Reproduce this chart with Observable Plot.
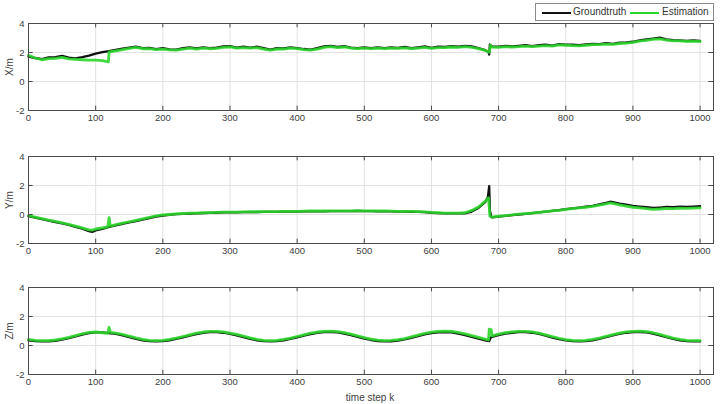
<!DOCTYPE html>
<html>
<head>
<meta charset="utf-8">
<script src="https://cdn.jsdelivr.net/npm/d3@7"></script>
<script src="https://cdn.jsdelivr.net/npm/@observablehq/plot@0.6"></script>
<style>
  html, body { margin: 0; padding: 0; background: #fff; }
  #wrap { position: relative; width: 720px; height: 404px; overflow: hidden; font-family: "Liberation Sans", Arial, sans-serif; color: #404040; }
  #wrap svg { position: absolute; left: 0; display: block; }
  .ylab { position: absolute; font-size: 10px; transform: translate(-50%, -50%) rotate(-90deg); white-space: nowrap; }
  .xlab { position: absolute; font-size: 10px; transform: translate(-50%, -50%); white-space: nowrap; }
  #legend { position: absolute; left: 535px; top: 3px; width: 177px; height: 16px; border: 1px solid #8a8a8a; background: #fff; font-size: 10px; }
  #legend .sw { position: absolute; top: 8px; height: 0; }
  #legend .tx { position: absolute; top: 2px; line-height: 12px; color: #333; }
</style>
</head>
<body>
<div id="wrap"></div>
<script>
// ---- data ----
const xTicks = [0, 100, 200, 300, 400, 500, 600, 700, 800, 900, 1000];
const yTicks = [-2, 0, 2, 4];
const seriesNames = ["Groundtruth", "Estimation"];
const panelLabels = ["X/m", "Y/m", "Z/m"];
const xAxisTitle = "time step k";

const xTruth = [[0,1.72],[10,1.62],[20,1.55],[30,1.66],[40,1.68],[50,1.76],[60,1.64],[70,1.6],[80,1.68],[90,1.78],[100,1.92],[110,2.02],[120,2.1],[130,2.18],[140,2.26],[150,2.34],[160,2.4],[170,2.3],[180,2.32],[190,2.24],[200,2.3],[210,2.22],[220,2.2],[230,2.3],[240,2.36],[250,2.28],[260,2.36],[270,2.3],[280,2.34],[290,2.42],[300,2.44],[310,2.34],[320,2.4],[330,2.34],[340,2.4],[350,2.3],[360,2.2],[370,2.3],[380,2.28],[390,2.36],[400,2.3],[410,2.24],[420,2.2],[430,2.3],[440,2.42],[450,2.46],[460,2.38],[470,2.44],[480,2.34],[490,2.3],[500,2.36],[510,2.3],[520,2.36],[530,2.3],[540,2.36],[550,2.32],[560,2.38],[570,2.3],[580,2.36],[590,2.42],[600,2.32],[610,2.4],[620,2.38],[630,2.44],[640,2.4],[650,2.46],[660,2.42],[670,2.3],[680,2.16],[685,2.04],[686,1.86],[687,2.55],[690,2.42],[700,2.4],[710,2.46],[720,2.42],[730,2.46],[740,2.5],[750,2.44],[760,2.5],[770,2.54],[780,2.48],[790,2.58],[800,2.54],[810,2.54],[820,2.5],[830,2.56],[840,2.6],[850,2.58],[860,2.64],[870,2.6],[880,2.68],[890,2.7],[900,2.74],[910,2.84],[920,2.9],[930,2.96],[940,3.02],[950,2.9],[960,2.86],[970,2.84],[980,2.8],[990,2.84],[1000,2.8]];
const xEst = [[0,1.8],[10,1.62],[20,1.5],[30,1.58],[40,1.6],[50,1.66],[60,1.56],[70,1.53],[80,1.5],[90,1.48],[100,1.47],[110,1.44],[119,1.36],[120,2.04],[130,2.12],[140,2.2],[150,2.28],[160,2.36],[170,2.26],[180,2.26],[190,2.2],[200,2.24],[210,2.18],[220,2.16],[230,2.24],[240,2.3],[250,2.24],[260,2.3],[270,2.26],[280,2.28],[290,2.36],[300,2.38],[310,2.3],[320,2.34],[330,2.3],[340,2.34],[350,2.24],[360,2.16],[370,2.24],[380,2.24],[390,2.3],[400,2.26],[410,2.2],[420,2.16],[430,2.24],[440,2.36],[450,2.4],[460,2.34],[470,2.38],[480,2.3],[490,2.26],[500,2.3],[510,2.26],[520,2.3],[530,2.26],[540,2.3],[550,2.28],[560,2.32],[570,2.26],[580,2.3],[590,2.36],[600,2.28],[610,2.34],[620,2.34],[630,2.38],[640,2.36],[650,2.4],[660,2.36],[670,2.26],[680,2.14],[686,2.02],[688,2.5],[690,2.38],[700,2.36],[710,2.4],[720,2.38],[730,2.4],[740,2.44],[750,2.4],[760,2.44],[770,2.48],[780,2.44],[790,2.52],[800,2.5],[810,2.48],[820,2.46],[830,2.5],[840,2.54],[850,2.54],[860,2.58],[870,2.56],[880,2.62],[890,2.64],[900,2.7],[910,2.78],[920,2.84],[930,2.9],[940,2.94],[950,2.86],[960,2.8],[970,2.8],[980,2.76],[990,2.78],[1000,2.76]];

const yTruth = [[0,-0.12],[10,-0.22],[20,-0.32],[30,-0.42],[40,-0.52],[50,-0.62],[60,-0.72],[70,-0.85],[80,-0.98],[90,-1.15],[95,-1.2],[100,-1.1],[110,-1.0],[120,-0.85],[130,-0.75],[140,-0.65],[150,-0.55],[160,-0.45],[170,-0.35],[180,-0.25],[190,-0.15],[200,-0.07],[210,-0.02],[220,0.02],[230,0.05],[240,0.07],[250,0.08],[260,0.1],[270,0.11],[280,0.12],[290,0.14],[300,0.15],[310,0.15],[320,0.16],[330,0.17],[340,0.17],[350,0.18],[360,0.18],[370,0.18],[380,0.2],[390,0.2],[400,0.2],[410,0.21],[420,0.22],[430,0.22],[440,0.22],[450,0.23],[460,0.23],[470,0.23],[480,0.23],[490,0.24],[500,0.23],[510,0.23],[520,0.22],[530,0.22],[540,0.21],[550,0.2],[560,0.2],[570,0.19],[580,0.18],[590,0.16],[600,0.12],[610,0.1],[620,0.08],[630,0.08],[640,0.08],[650,0.08],[660,0.2],[670,0.45],[680,0.85],[684,1.2],[686,1.95],[687,0.3],[689,-0.15],[690,-0.2],[700,-0.15],[710,-0.1],[720,-0.05],[730,0.0],[740,0.05],[750,0.1],[760,0.15],[770,0.2],[780,0.25],[790,0.3],[800,0.37],[810,0.42],[820,0.48],[830,0.54],[840,0.6],[850,0.7],[860,0.8],[866,0.88],[870,0.85],[880,0.75],[890,0.68],[900,0.6],[910,0.55],[920,0.5],[930,0.45],[940,0.48],[950,0.52],[960,0.5],[970,0.55],[980,0.52],[990,0.55],[1000,0.58]];
const yEst = [[0,-0.08],[10,-0.18],[20,-0.28],[30,-0.38],[40,-0.48],[50,-0.58],[60,-0.68],[70,-0.8],[80,-0.92],[90,-1.06],[95,-1.08],[100,-1.0],[110,-0.92],[118,-0.85],[120,-0.22],[122,-0.8],[130,-0.7],[140,-0.6],[150,-0.5],[160,-0.4],[170,-0.3],[180,-0.2],[190,-0.1],[200,-0.03],[210,0.0],[220,0.04],[230,0.07],[240,0.09],[250,0.1],[260,0.12],[270,0.13],[280,0.14],[290,0.16],[300,0.17],[310,0.17],[320,0.18],[330,0.19],[340,0.19],[350,0.2],[360,0.2],[370,0.2],[380,0.22],[390,0.22],[400,0.22],[410,0.23],[420,0.24],[430,0.24],[440,0.24],[450,0.25],[460,0.25],[470,0.25],[480,0.25],[490,0.26],[500,0.25],[510,0.25],[520,0.24],[530,0.24],[540,0.23],[550,0.22],[560,0.22],[570,0.21],[580,0.2],[590,0.18],[600,0.14],[610,0.12],[620,0.1],[630,0.1],[640,0.1],[650,0.12],[660,0.28],[670,0.52],[680,0.9],[685,1.15],[687,-0.1],[690,-0.18],[700,-0.12],[710,-0.08],[720,-0.03],[730,0.02],[740,0.06],[750,0.1],[760,0.15],[770,0.2],[780,0.25],[790,0.29],[800,0.35],[810,0.4],[820,0.45],[830,0.5],[840,0.56],[850,0.64],[860,0.74],[866,0.8],[870,0.76],[880,0.66],[890,0.58],[900,0.5],[910,0.45],[920,0.4],[930,0.36],[940,0.38],[950,0.42],[960,0.4],[970,0.44],[980,0.42],[990,0.44],[1000,0.46]];

const zTruth = [[0,0.35],[10,0.3],[20,0.28],[30,0.28],[40,0.32],[50,0.4],[60,0.5],[70,0.62],[80,0.75],[90,0.85],[100,0.9],[110,0.9],[120,0.86],[130,0.8],[140,0.7],[150,0.58],[160,0.46],[170,0.36],[180,0.3],[190,0.28],[200,0.3],[210,0.36],[220,0.45],[230,0.56],[240,0.68],[250,0.79],[260,0.87],[270,0.92],[280,0.92],[290,0.88],[300,0.8],[310,0.7],[320,0.58],[330,0.46],[340,0.36],[350,0.3],[360,0.28],[370,0.3],[380,0.36],[390,0.45],[400,0.56],[410,0.68],[420,0.79],[430,0.87],[440,0.92],[450,0.93],[460,0.9],[470,0.82],[480,0.72],[490,0.6],[500,0.48],[510,0.38],[520,0.31],[530,0.28],[540,0.29],[550,0.34],[560,0.42],[570,0.53],[580,0.65],[590,0.77],[600,0.86],[610,0.91],[620,0.93],[630,0.9],[640,0.82],[650,0.72],[660,0.6],[670,0.48],[680,0.36],[686,0.3],[688,0.52],[690,0.6],[700,0.72],[710,0.82],[720,0.88],[730,0.92],[740,0.92],[750,0.88],[760,0.8],[770,0.68],[780,0.55],[790,0.44],[800,0.35],[810,0.3],[820,0.28],[830,0.3],[840,0.36],[850,0.45],[860,0.57],[870,0.69],[880,0.8],[890,0.88],[900,0.92],[910,0.93],[920,0.9],[930,0.82],[940,0.7],[950,0.57],[960,0.45],[970,0.36],[980,0.3],[990,0.28],[1000,0.28]];
const zEst = [[0,0.42],[10,0.36],[20,0.34],[30,0.34],[40,0.38],[50,0.46],[60,0.56],[70,0.68],[80,0.81],[90,0.9],[100,0.93],[110,0.88],[118,0.84],[120,1.25],[122,0.9],[130,0.86],[140,0.76],[150,0.64],[160,0.52],[170,0.42],[180,0.36],[190,0.34],[200,0.36],[210,0.42],[220,0.51],[230,0.62],[240,0.74],[250,0.85],[260,0.93],[270,0.98],[280,0.98],[290,0.94],[300,0.86],[310,0.76],[320,0.64],[330,0.52],[340,0.42],[350,0.36],[360,0.34],[370,0.36],[380,0.42],[390,0.51],[400,0.62],[410,0.74],[420,0.85],[430,0.93],[440,0.98],[450,0.99],[460,0.96],[470,0.88],[480,0.78],[490,0.66],[500,0.54],[510,0.44],[520,0.37],[530,0.34],[540,0.35],[550,0.4],[560,0.48],[570,0.59],[580,0.71],[590,0.83],[600,0.92],[610,0.97],[620,0.99],[630,0.97],[640,0.9],[650,0.8],[660,0.68],[670,0.56],[680,0.44],[685,0.38],[686,1.12],[689,1.1],[690,0.66],[700,0.78],[710,0.88],[720,0.94],[730,0.98],[740,0.98],[750,0.94],[760,0.86],[770,0.74],[780,0.61],[790,0.5],[800,0.41],[810,0.36],[820,0.34],[830,0.36],[840,0.42],[850,0.51],[860,0.63],[870,0.75],[880,0.86],[890,0.94],[900,0.98],[910,0.99],[920,0.96],[930,0.88],[940,0.76],[950,0.63],[960,0.51],[970,0.42],[980,0.36],[990,0.34],[1000,0.34]];

// ---- drawing ----
const colTruth = "#111111";
const colEst = "#2bd62b";
const axisCol = "#4a4a4a";
const xDomain = [0, 1020];
const yDomain = [-2, 4];

function panel(truth, est, top) {
  const svg = Plot.plot({
    width: 720, height: 135,
    marginLeft: 28, marginRight: 7, marginTop: 23, marginBottom: 25,
    x: {domain: xDomain, label: null},
    y: {domain: yDomain, label: null},
    style: {fontFamily: "'Liberation Sans', Arial, sans-serif", fontSize: "9.5px", color: "#404040", background: "transparent", overflow: "visible"},
    marks: [
      Plot.ruleX(xTicks, {stroke: "#e2e2e2", strokeWidth: 1}),
      Plot.ruleY(yTicks, {stroke: "#e2e2e2", strokeWidth: 1}),
      Plot.line(truth, {x: d => d[0], y: d => d[1], stroke: colTruth, strokeWidth: 2.3, strokeLinejoin: "round"}),
      Plot.line(est, {x: d => d[0], y: d => d[1], stroke: colEst, strokeWidth: 2.8, strokeOpacity: 0.9, strokeLinejoin: "round"}),
      Plot.ruleX(xTicks, {y1: yDomain[0], y2: yDomain[0] + 0.3, stroke: axisCol}),
      Plot.ruleX(xTicks, {y1: yDomain[1], y2: yDomain[1] - 0.3, stroke: axisCol}),
      Plot.ruleY(yTicks, {x1: xDomain[0], x2: xDomain[0] + 7, stroke: axisCol}),
      Plot.ruleY(yTicks, {x1: xDomain[1], x2: xDomain[1] - 7, stroke: axisCol}),
      Plot.frame({stroke: axisCol, strokeWidth: 1}),
      Plot.axisX({ticks: xTicks, tickSize: 0, tickPadding: 4, label: null, tickFormat: d => String(d)}),
      Plot.axisY({ticks: yTicks, tickSize: 0, tickPadding: 4, label: null, tickFormat: d => String(d)})
    ]
  });
  svg.style.top = top + "px";
  return svg;
}

const wrap = document.getElementById("wrap");
const panels = [[xTruth, xEst, 0], [yTruth, yEst, 133], [zTruth, zEst, 264]];
panels.forEach(([t, e, top], i) => {
  wrap.appendChild(panel(t, e, top));
  const lab = document.createElement("div");
  lab.className = "ylab";
  lab.textContent = panelLabels[i];
  lab.style.left = "9px";
  lab.style.top = (top + 23 + 43.5) + "px";
  wrap.appendChild(lab);
});

const xl = document.createElement("div");
xl.className = "xlab";
xl.textContent = xAxisTitle;
xl.style.left = "370px";
xl.style.top = "397px";
wrap.appendChild(xl);

// legend
const lg = document.createElement("div");
lg.id = "legend";
const items = [{c: colTruth, x: 6, tx: 37}, {c: colEst, x: 94, tx: 126}];
items.forEach((it, i) => {
  const sw = document.createElement("div");
  sw.className = "sw";
  sw.style.left = it.x + "px";
  sw.style.width = "29px";
  sw.style.borderTop = "2px solid " + it.c;
  lg.appendChild(sw);
  const tx = document.createElement("div");
  tx.className = "tx";
  tx.style.left = it.tx + "px";
  tx.textContent = seriesNames[i];
  lg.appendChild(tx);
});
wrap.appendChild(lg);
</script>
</body>
</html>
